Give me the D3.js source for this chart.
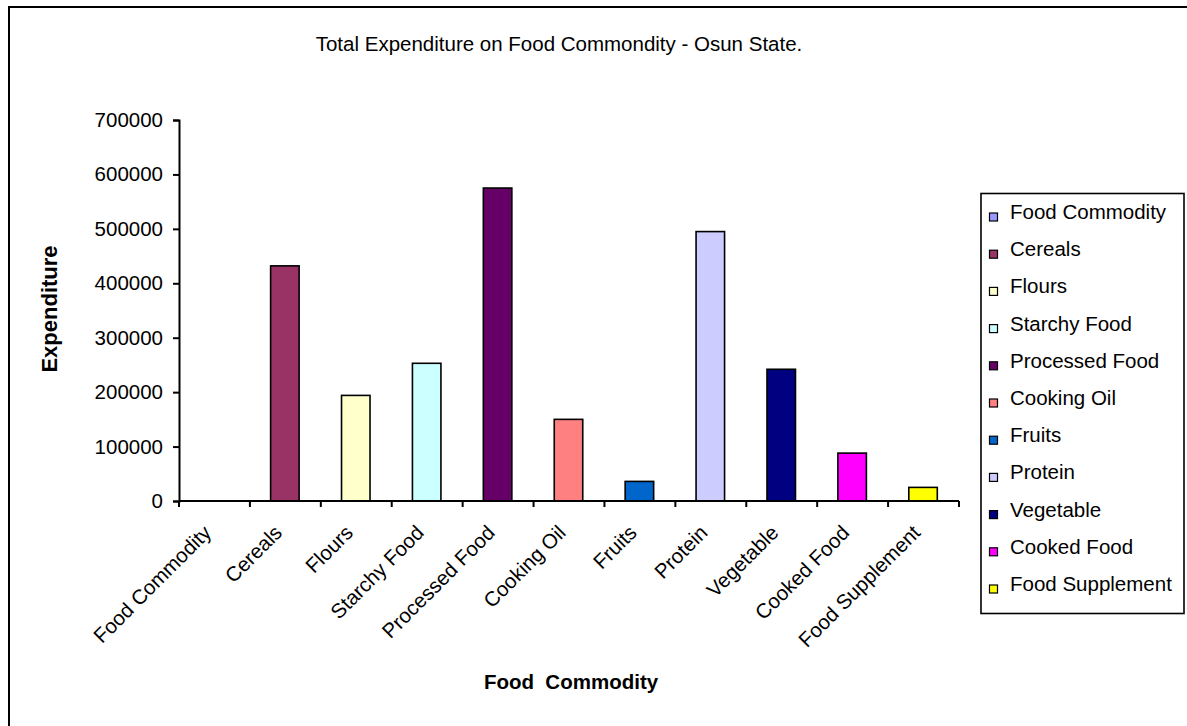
<!DOCTYPE html>
<html>
<head>
<meta charset="utf-8">
<script src="https://cdn.jsdelivr.net/npm/d3@7"></script>
<style>
  html, body { margin: 0; padding: 0; background: #fff; }
  svg { display: block; font-family: Arial, "Liberation Sans", sans-serif; }
</style>
</head>
<body>
<svg id="chart" width="1187" height="726"></svg>
<script>
// Food commodity categories and total expenditure (Osun State)
const categories = ["Food Commodity", "Cereals", "Flours", "Starchy Food", "Processed Food",
  "Cooking Oil", "Fruits", "Protein", "Vegetable", "Cooked Food", "Food Supplement"];
const expenditure = [0, 432000, 194000, 253000, 575000, 150000, 36000, 495000, 242000, 88000, 25000];
const colors = ["#9999FF", "#993366", "#FFFFCC", "#CCFFFF", "#660066", "#FF8080",
  "#0066CC", "#CCCCFF", "#000080", "#FF00FF", "#FFFF00"];
const yTicks = [0, 100000, 200000, 300000, 400000, 500000, 600000, 700000];

const FS = 20.5;
const svg = d3.select("#chart");

// Outer chart frame
svg.append("rect")
  .attr("x", 9).attr("y", 7)
  .attr("width", 1190).attr("height", 730)
  .attr("fill", "#fff").attr("stroke", "#000").attr("stroke-width", 2);

const plot = { left: 179, right: 959, top: 120, bottom: 501 };

const x = d3.scaleBand().domain(categories).range([plot.left, plot.right]).paddingInner(0).paddingOuter(0);
const y = d3.scaleLinear().domain([0, 700000]).range([plot.bottom, plot.top]);

// Title
svg.append("text")
  .attr("x", 559).attr("y", 51)
  .attr("text-anchor", "middle")
  .attr("font-size", FS)
  .text("Total Expenditure on Food Commondity - Osun State.");

// Bars
const barW = 28.5;
svg.append("g").selectAll("rect")
  .data(categories)
  .join("rect")
  .attr("x", d => x(d) + x.bandwidth() / 2 - barW / 2 - 0.5)
  .attr("y", (d, i) => y(expenditure[i]))
  .attr("width", barW)
  .attr("height", (d, i) => y(0) - y(expenditure[i]))
  .attr("fill", (d, i) => colors[i])
  .attr("stroke", "#000")
  .attr("stroke-width", 1.6)
  .attr("display", (d, i) => expenditure[i] > 0 ? null : "none");

// Y axis
const yAxis = svg.append("g")
  .attr("transform", `translate(${plot.left},0)`)
  .call(d3.axisLeft(y).tickValues(yTicks).tickFormat(d3.format("d")).tickSize(6).tickPadding(10));
yAxis.select(".domain").attr("stroke", "#000").attr("stroke-width", 2);
yAxis.selectAll(".tick line").attr("stroke", "#000").attr("stroke-width", 2);
yAxis.selectAll(".tick text").attr("font-size", FS).attr("fill", "#000")
  .attr("font-family", "Arial, 'Liberation Sans', sans-serif");

// X axis: ticks sit between categories
const xAxisG = svg.append("g").attr("transform", `translate(0,${plot.bottom})`);
xAxisG.append("line")
  .attr("x1", plot.left).attr("x2", plot.right)
  .attr("stroke", "#000").attr("stroke-width", 2);
const boundaries = categories.map(c => x(c)).concat([x(categories[categories.length - 1]) + x.bandwidth()]);
xAxisG.selectAll("line.tk")
  .data(boundaries)
  .join("line")
  .attr("class", "tk")
  .attr("x1", d => d).attr("x2", d => d)
  .attr("y1", 0).attr("y2", 6)
  .attr("stroke", "#000").attr("stroke-width", 2);

// Rotated category labels
svg.append("g").selectAll("text")
  .data(categories)
  .join("text")
  .attr("transform", d => `translate(${x(d) + x.bandwidth() / 2 - 2},${plot.bottom + 33}) rotate(-45)`)
  .attr("text-anchor", "end")
  .attr("font-size", FS)
  .text(d => d);

// Axis titles
svg.append("text")
  .attr("transform", `translate(57,${309}) rotate(-90)`)
  .attr("text-anchor", "middle")
  .attr("font-size", 22)
  .attr("font-weight", "bold")
  .text("Expenditure");

svg.append("text")
  .attr("x", 571)
  .attr("y", 689)
  .attr("text-anchor", "middle")
  .attr("font-size", 20.5)
  .attr("font-weight", "bold")
  .attr("xml:space", "preserve")
  .style("white-space", "pre")
  .text("Food  Commodity");

// Legend
const legend = svg.append("g");
legend.append("rect")
  .attr("x", 981).attr("y", 193.5)
  .attr("width", 203).attr("height", 420)
  .attr("fill", "#fff").attr("stroke", "#000").attr("stroke-width", 1.6);
const step = 37.2;
const items = legend.selectAll("g.item")
  .data(categories)
  .join("g")
  .attr("class", "item")
  .attr("transform", (d, i) => `translate(0,${219 + i * step})`);
items.append("rect")
  .attr("x", 989.5).attr("y", -6)
  .attr("width", 8).attr("height", 8)
  .attr("fill", (d, i) => colors[i])
  .attr("stroke", "#000").attr("stroke-width", 1.2);
items.append("text")
  .attr("x", 1010).attr("y", 0)
  .attr("font-size", FS)
  .text(d => d);
</script>
</body>
</html>
